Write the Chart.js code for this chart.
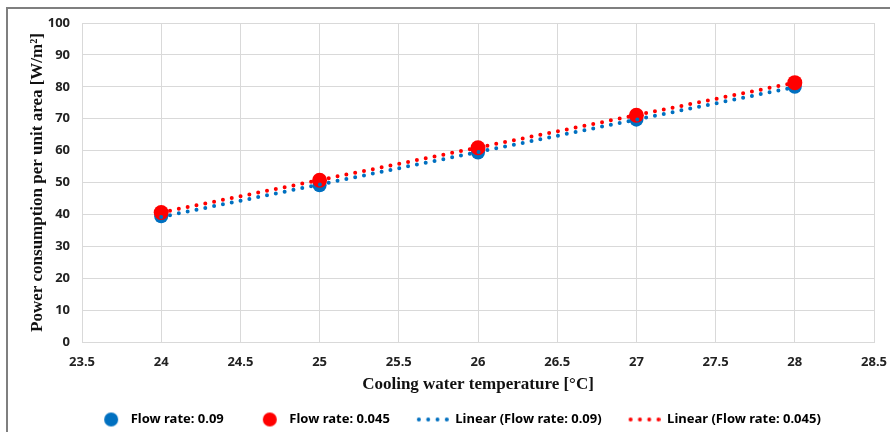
<!DOCTYPE html>
<html>
<head>
<meta charset="utf-8">
<script src="https://cdn.jsdelivr.net/npm/chart.js@4/dist/chart.umd.min.js"></script>
<style>
  html, body { margin: 0; padding: 0; background: #fff; }
  #wrap { position: relative; width: 890px; height: 432px; }
</style>
</head>
<body>
<div id="wrap"><canvas id="grafico"></canvas></div>
<script>
// dados
const temperatura = [24, 25, 26, 27, 28];
const vazao009 = [39.4, 49.1, 59.4, 69.7, 80.0];
const vazao0045 = [40.6, 50.7, 60.9, 71.1, 81.3];
const tendX = [24, 28];
const tend009 = [39.2, 79.9];
const tend0045 = [40.6, 81.3];
const rotulos = ["Flow rate: 0.09", "Flow rate: 0.045", "Linear (Flow rate: 0.09)", "Linear (Flow rate: 0.045)"];

const COR_AZUL = "#0070C0";
const COR_VERM = "#FF0000";
const LARG_CAIXA = 49;

function pontos(xs, ys) {
    return xs.map((x, i) => ({ x, y: ys[i] }));
}

// ícones da legenda (conteúdo encostado à direita da caixa)
function iconeCirculo(cor) {
    const c = document.createElement("canvas");
    c.width = LARG_CAIXA; c.height = 16;
    const g = c.getContext("2d");
    g.fillStyle = cor;
    g.beginPath();
    g.arc(LARG_CAIXA - 13, 8, 7, 0, Math.PI * 2);
    g.fill();
    return c;
}

function iconePontilhado(cor) {
    const c = document.createElement("canvas");
    c.width = LARG_CAIXA; c.height = 8;
    const g = c.getContext("2d");
    g.fillStyle = cor;
    [0, 1, 2, 3].forEach(i => {
        g.beginPath();
        g.arc(LARG_CAIXA - 30 + i * 9.3, 4, 2, 0, Math.PI * 2);
        g.fill();
    });
    return c;
}

// moldura cinza (canto superior esquerdo)
const moldura = {
    id: "moldura",
    beforeDraw(chart) {
        const g = chart.ctx;
        g.save();
        g.fillStyle = "#fff";
        g.fillRect(0, 0, chart.width, chart.height);
        g.strokeStyle = "#7f7f7f";
        g.lineWidth = 2;
        g.beginPath();
        g.moveTo(7, chart.height);
        g.lineTo(7, 8);
        g.lineTo(chart.width, 8);
        g.stroke();
        g.restore();
    }
};

const icones = [iconeCirculo(COR_AZUL), iconeCirculo(COR_VERM), iconePontilhado(COR_AZUL), iconePontilhado(COR_VERM)];

const fonteTicks = { family: "'Noto Sans', sans-serif", size: 13, weight: "bold" };
const fonteTitulo = { family: "'Liberation Serif', 'Times New Roman', serif", size: 17, weight: "bold" };

new Chart(document.getElementById("grafico"), {
    type: "scatter",
    data: {
        datasets: [
            {
                label: rotulos[0],
                data: pontos(temperatura, vazao009),
                backgroundColor: COR_AZUL,
                borderWidth: 0,
                pointRadius: 7,
                pointHoverRadius: 7,
                order: 4
            },
            {
                label: rotulos[1],
                data: pontos(temperatura, vazao0045),
                backgroundColor: COR_VERM,
                borderWidth: 0,
                pointRadius: 7.5,
                pointHoverRadius: 7.5,
                order: 3
            },
            {
                label: rotulos[2],
                data: pontos(tendX, tend009),
                showLine: true,
                borderColor: COR_AZUL,
                borderWidth: 4,
                borderDash: [0, 9],
                borderCapStyle: "round",
                pointRadius: 0,
                order: 2
            },
            {
                label: rotulos[3],
                data: pontos(tendX, tend0045),
                showLine: true,
                borderColor: COR_VERM,
                borderWidth: 4,
                borderDash: [0, 9],
                borderCapStyle: "round",
                pointRadius: 0,
                order: 1
            }
        ]
    },
    options: {
        responsive: true,
        maintainAspectRatio: false,
        animation: false,
        layout: { padding: { left: 6, right: 0, top: 23, bottom: -4 } },
        plugins: {
            tooltip: { enabled: false },
            legend: {
                position: "bottom",
                labels: {
                    usePointStyle: true,
                    pointStyleWidth: LARG_CAIXA,
                    padding: 10,
                    color: "#222",
                    font: fonteTicks,
                    generateLabels: () => rotulos.map((t, i) => ({
                        text: t,
                        pointStyle: icones[i],
                        fillStyle: "transparent",
                        strokeStyle: "transparent",
                        lineWidth: 0,
                        datasetIndex: i
                    }))
                }
            }
        },
        scales: {
            x: {
                type: "linear",
                min: 23.5,
                max: 28.5,
                ticks: {
                    stepSize: 0.5,
                    padding: 12,
                    color: "#222",
                    font: fonteTicks,
                    callback: v => String(parseFloat(Number(v).toFixed(1)))
                },
                grid: { color: "#d9d9d9", drawTicks: false },
                border: { color: "#d9d9d9" },
                title: {
                    display: true,
                    text: "Cooling water temperature [°C]",
                    color: "#111",
                    font: fonteTitulo,
                    padding: { top: 0, bottom: 8 }
                },
                afterFit(scale) {
                    scale.height = 61;
                    scale.paddingLeft = 0;
                    scale.paddingRight = 16;
                }
            },
            y: {
                min: 0,
                max: 100,
                ticks: { stepSize: 10, padding: 12, color: "#222", font: fonteTicks },
                grid: { color: "#d9d9d9", drawTicks: false },
                border: { color: "#d9d9d9" },
                title: {
                    display: true,
                    text: "Power consumption per unit area [W/m²]",
                    color: "#111",
                    font: fonteTitulo,
                    padding: { top: 21, bottom: 0 }
                },
                afterFit(scale) { scale.width = 76; }
            }
        }
    },
    plugins: [moldura]
});
</script>
</body>
</html>
